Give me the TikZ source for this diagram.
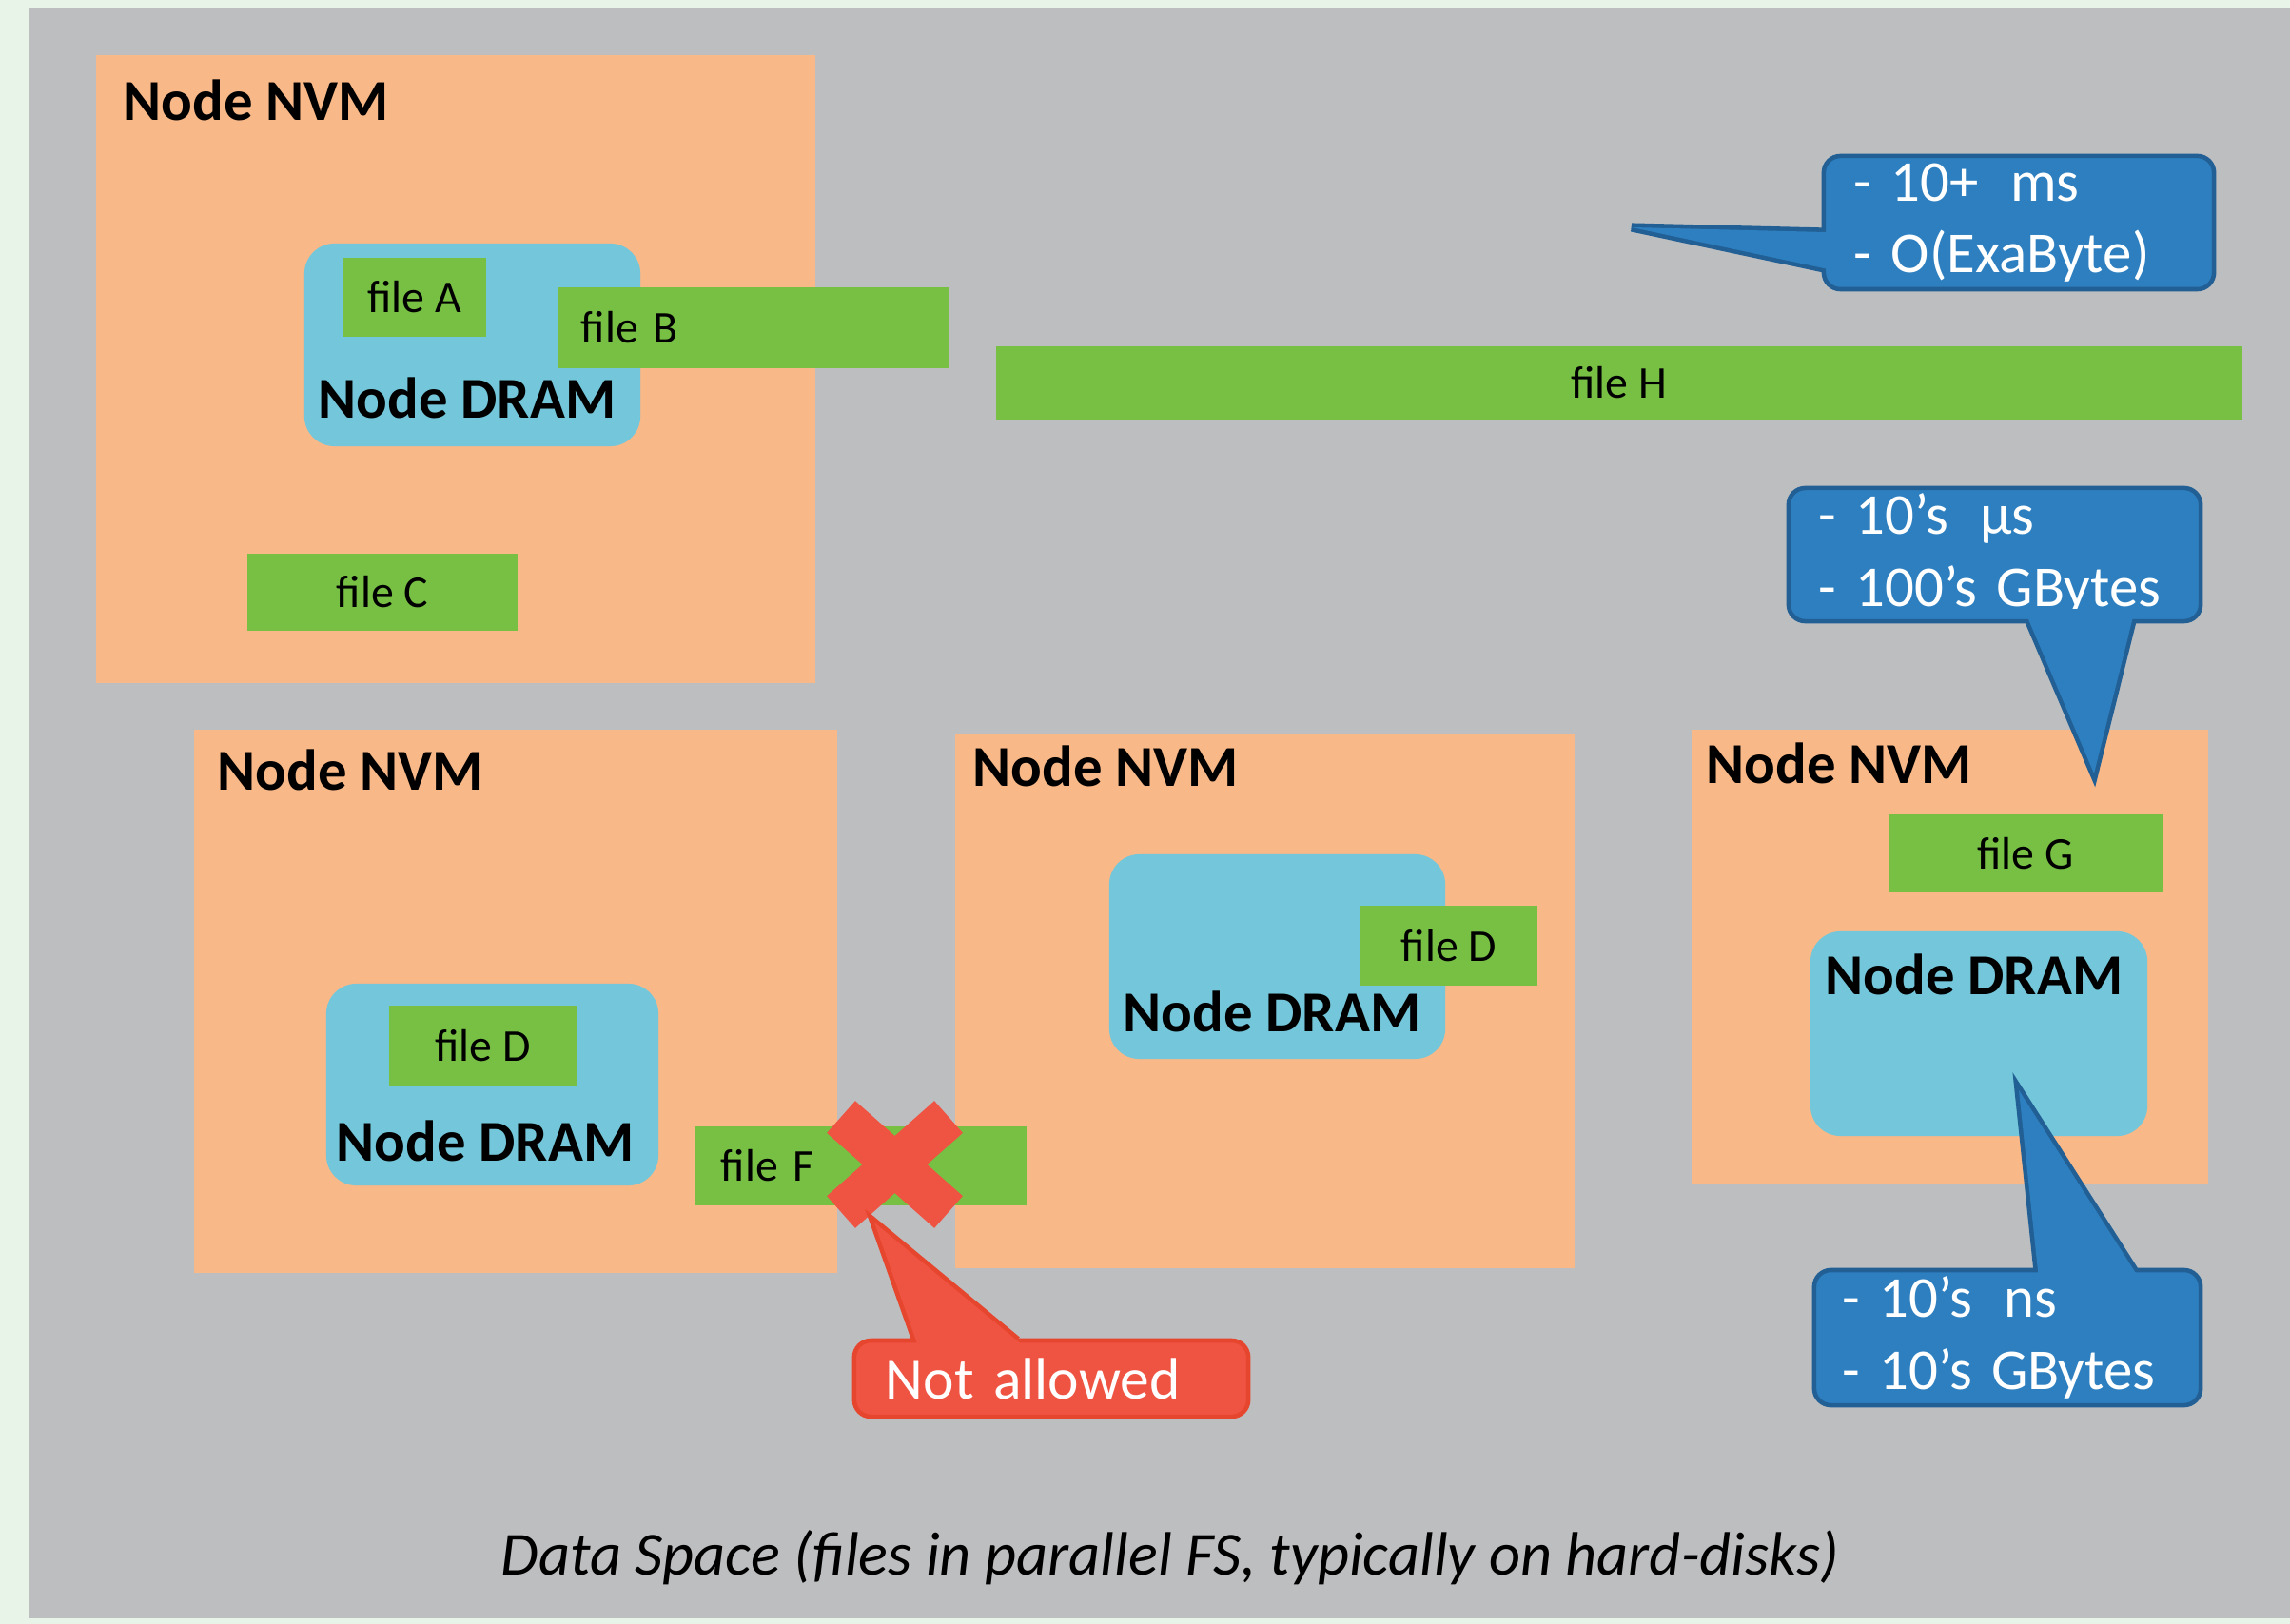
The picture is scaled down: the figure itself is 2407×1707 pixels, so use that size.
\documentclass[tikz,border=0pt]{standalone}
\usepackage{fontspec}
\setmainfont{Carlito}
\usetikzlibrary{calc}

\definecolor{outerbg}{RGB}{232,244,232}
\definecolor{panelgray}{RGB}{189,190,192}
\definecolor{nvmorange}{RGB}{248,184,136}
\definecolor{dramcyan}{RGB}{116,199,218}
\definecolor{filegreen}{RGB}{119,192,68}
\definecolor{tipblue}{RGB}{45,127,192}
\definecolor{tipblueedge}{RGB}{33,95,148}
\definecolor{nored}{RGB}{239,83,66}
\definecolor{noredge}{RGB}{230,70,45}

\tikzset{
  nvmbox/.style={shape=rectangle,fill=nvmorange,inner sep=0pt,outer sep=0pt},
  drambox/.style={shape=rectangle,fill=dramcyan,rounded corners=9pt,inner sep=0pt,outer sep=0pt},
  filebox/.style={shape=rectangle,fill=filegreen,inner sep=0pt,outer sep=0pt,font=\fontsize{13.6}{16}\selectfont},
  boxtitle/.style={inner sep=0pt,anchor=base west,font=\fontsize{17.3}{20}\selectfont\bfseries},
  tipbox/.style={shape=rectangle,fill=tipblue,draw=tipblueedge,line width=1.3pt,rounded corners=5pt,text=white,align=left,inner ysep=0pt,inner xsep=0.32cm,outer sep=0pt,font=\fontsize{17.3}{21.5}\selectfont},
  tipline/.style={draw=tipblueedge,line width=2.6pt},
  tipfill/.style={fill=tipblue},
  nobox/.style={shape=rectangle,fill=nored,draw=noredge,line width=1.3pt,rounded corners=5pt,text=white,align=left,inner ysep=0pt,inner xsep=0.33cm,outer sep=0pt,font=\fontsize{17.5}{21}\selectfont},
  noline/.style={draw=noredge,line width=2.6pt},
  nofill/.style={fill=nored},
  crossmark/.style={draw=nored,line width=12.8pt},
  caption/.style={inner sep=0pt,anchor=base,font=\fontsize{18.3}{22}\selectfont\itshape}
}

\begin{document}
\frenchspacing
\begin{tikzpicture}[x=0.01cm,y=-0.01cm]
\useasboundingbox (0,0) rectangle (2407,1707);
\fill[outerbg] (0,0) rectangle (2407,1707);
\fill[panelgray] (30,8) rectangle (2407,1701);

\node[nvmbox,minimum width=7.56cm,minimum height=6.60cm] (nvm1) at (479,388) {};
\node[nvmbox,minimum width=6.76cm,minimum height=5.71cm] (nvm2) at (542,1052.5) {};
\node[nvmbox,minimum width=6.51cm,minimum height=5.61cm] (nvm3) at (1329.5,1052.5) {};
\node[nvmbox,minimum width=5.43cm,minimum height=4.77cm] (nvm4) at (2049.5,1005.5) {};

\node[boxtitle] (nvm1t) at (129,127) {Node NVM};
\node[boxtitle] (nvm2t) at (228,830) {Node NVM};
\node[boxtitle] (nvm3t) at (1022,827) {Node NVM};
\node[boxtitle] (nvm4t) at (1793,823) {Node NVM};

\node[drambox,minimum width=3.53cm,minimum height=2.13cm] (dram1) at (496.5,362.5) {};
\node[drambox,minimum width=3.49cm,minimum height=2.12cm] (dram2) at (517.5,1140) {};
\node[drambox,minimum width=3.53cm,minimum height=2.15cm] (dram3) at (1342.5,1005.5) {};
\node[drambox,minimum width=3.54cm,minimum height=2.15cm] (dram4) at (2080,1086.5) {};

\node[boxtitle] (dram1t) at (334,440) {Node DRAM};
\node[boxtitle] (dram2t) at (353,1220) {Node DRAM};
\node[boxtitle] (dram3t) at (1180,1084) {Node DRAM};
\node[boxtitle] (dram4t) at (1918,1045) {Node DRAM};

\node[filebox,minimum width=1.51cm,minimum height=0.83cm] (fileA) at (435.5,312.5) {file A};
\node[filebox,minimum width=4.12cm,minimum height=0.85cm,inner xsep=0.25cm,text width=3.62cm,align=left] (fileB) at (792,344.5) {file B};
\node[filebox,minimum width=2.84cm,minimum height=0.81cm] (fileC) at (402,622.5) {file C};
\node[filebox,minimum width=13.10cm,minimum height=0.77cm] (fileH) at (1702,402.5) {file H};
\node[filebox,minimum width=1.97cm,minimum height=0.84cm] (fileD1) at (507.5,1099) {file D};
\node[filebox,minimum width=1.86cm,minimum height=0.84cm] (fileD2) at (1523,994) {file D};
\node[filebox,minimum width=2.88cm,minimum height=0.82cm] (fileG) at (2129,897) {file G};
\node[filebox,minimum width=3.48cm,minimum height=0.83cm,inner xsep=0.27cm,text width=2.94cm,align=left] (fileF) at (905,1225.5) {file F};

\draw[crossmark] (884,1174) -- (997,1274) (997,1174) -- (884,1274);

\node[tipbox,minimum width=4.10cm,minimum height=1.40cm,text width=3.46cm] (ms) at (2122,234) {- 10+\hspace{0.55em}ms\\- O(ExaByte)};
\coordinate (tipms) at (1715,239);
\coordinate (ms-a) at ($(ms.north west)+(0,80)$);
\coordinate (ms-b) at ($(ms.north west)+(0,118)$);
\draw[tipline] (ms-a) -- (tipms) -- (ms-b);
\fill[tipfill] ($(tipms)!1.08!(ms-a)$) -- (tipms) -- ($(tipms)!1.08!(ms-b)$) -- cycle;

\node[tipbox,minimum width=4.33cm,minimum height=1.40cm,text width=3.69cm] (us) at (2096.5,583) {- 10’s\hspace{0.55em}µs\\- 100’s GBytes};
\coordinate (tipus) at (2201,813);
\coordinate (us-a) at ($(us.south west)+(253,0)$);
\coordinate (us-b) at ($(us.south west)+(361,0)$);
\draw[tipline] (us-a) -- (tipus) -- (us-b);
\fill[tipfill] ($(tipus)!1.08!(us-a)$) -- (tipus) -- ($(tipus)!1.08!(us-b)$) -- cycle;

\node[tipbox,minimum width=4.06cm,minimum height=1.42cm,inner xsep=0.30cm,text width=3.46cm] (ns) at (2110,1406) {- 10’s\hspace{0.55em}ns\\- 10’s GBytes};
\coordinate (tipns) at (2122,1146);
\coordinate (ns-a) at ($(ns.north west)+(235,0)$);
\coordinate (ns-b) at ($(ns.north west)+(336,0)$);
\draw[tipline] (ns-a) -- (tipns) -- (ns-b);
\fill[tipfill] ($(tipns)!1.08!(ns-a)$) -- (tipns) -- ($(tipns)!1.08!(ns-b)$) -- cycle;

\node[nobox,minimum width=4.14cm,minimum height=0.80cm,text width=3.48cm] (na) at (1105,1449) {Not allowed};
\coordinate (tipna) at (919,1285);
\coordinate (na-a) at ($(na.north west)+(65,0)$);
\coordinate (na-b) at ($(na.north west)+(171,0)$);
\draw[noline] (na-a) -- (tipna) -- (na-b);
\fill[nofill] ($(tipna)!1.08!(na-a)$) -- (tipna) -- ($(tipna)!1.08!(na-b)$) -- cycle;

\node[caption] (space) at (1230,1655) {Data Space (files in parallel FS, typically on hard-disks)};
\end{tikzpicture}
\end{document}
